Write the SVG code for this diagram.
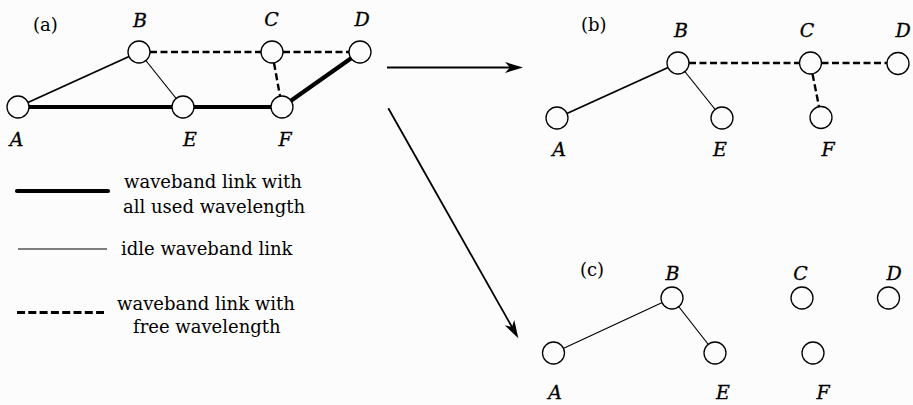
<svg xmlns="http://www.w3.org/2000/svg" width="913" height="405" viewBox="0 0 913 405">
  <style>
    .bg { fill: #fcfcfc; }
    .node { fill: #fcfcfc; stroke: #000; stroke-width: 1.3; }
    .lbl { font-family: "DejaVu Serif", "Liberation Serif", serif; font-style: italic; font-size: 19px; text-anchor: middle; fill: #000; stroke: #000; stroke-width: 0.3; }
    .cap { font-family: "DejaVu Serif", "Liberation Serif", serif; font-size: 18px; fill: #000; }
    .thick { stroke: #000; stroke-width: 4.2; fill: none; }
    .med { stroke: #000; stroke-width: 1.9; fill: none; }
    .thin { stroke: #000; stroke-width: 1.2; fill: none; }
    .dash { stroke: #000; stroke-width: 2.4; stroke-dasharray: 7 3.5; fill: none; }
    .arrow { stroke: #000; stroke-width: 1.8; fill: none; marker-end: url(#head); }
  </style>
  <defs>
    <marker id="head" markerUnits="userSpaceOnUse" markerWidth="20" markerHeight="14" refX="10" refY="0" viewBox="0 -7 20 14" orient="auto" overflow="visible">
      <path d="M0,-5.5 L18,0 L0,5.5 L5,0 Z" fill="#000"/>
    </marker>
  </defs>
  <rect class="bg" x="0" y="0" width="913" height="405"/>

  <!-- connectors -->
  <g id="connectors">
    <!-- panel a -->
    <line class="med" x1="18" y1="107" x2="139" y2="52"/>
    <line class="thin" x1="139" y1="52" x2="183" y2="107"/>
    <line class="thick" x1="18" y1="107" x2="282" y2="107"/>
    <line class="thick" x1="282" y1="107" x2="360" y2="52"/>
    <line class="dash" x1="150" y1="52" x2="261" y2="52"/>
    <line class="dash" x1="283" y1="52" x2="349" y2="52"/>
    <line class="dash" x1="274" y1="63" x2="280" y2="96"/>
    <!-- panel b -->
    <line class="med" x1="557" y1="118" x2="678" y2="63"/>
    <line class="thin" x1="678" y1="63" x2="722" y2="118"/>
    <line class="dash" x1="689" y1="63" x2="799.5" y2="63"/>
    <line class="dash" x1="821.5" y1="63" x2="887" y2="63"/>
    <line class="dash" x1="812.5" y1="74" x2="819" y2="106.5"/>
    <!-- panel c -->
    <line class="thin" x1="553.5" y1="353" x2="672" y2="298"/>
    <line class="thin" x1="672" y1="298" x2="715" y2="353"/>
    <!-- transition arrows -->
    <line class="arrow" x1="387" y1="67.5" x2="515" y2="67.5"/>
    <line class="arrow" x1="388.3" y1="108.3" x2="514.4" y2="331.3"/>
  </g>

  <!-- panel a nodes -->
  <text class="cap" x="33" y="31">(a)</text>
  <g id="a-A"><circle class="node" cx="18" cy="107" r="11"/><text class="lbl" x="16.5" y="146">A</text></g>
  <g id="a-B"><circle class="node" cx="139" cy="52" r="11"/><text class="lbl" x="140" y="27">B</text></g>
  <g id="a-C"><circle class="node" cx="272" cy="52" r="11"/><text class="lbl" x="271.5" y="26">C</text></g>
  <g id="a-D"><circle class="node" cx="360" cy="52" r="11"/><text class="lbl" x="362" y="26">D</text></g>
  <g id="a-E"><circle class="node" cx="183" cy="107" r="11"/><text class="lbl" x="190" y="146">E</text></g>
  <g id="a-F"><circle class="node" cx="282" cy="107" r="11"/><text class="lbl" x="285" y="146">F</text></g>

  <!-- panel b nodes -->
  <text class="cap" x="581" y="31">(b)</text>
  <g id="b-A"><circle class="node" cx="557" cy="118" r="11"/><text class="lbl" x="559" y="156">A</text></g>
  <g id="b-B"><circle class="node" cx="678" cy="63" r="11"/><text class="lbl" x="681" y="37">B</text></g>
  <g id="b-C"><circle class="node" cx="810.5" cy="63" r="11"/><text class="lbl" x="807" y="37">C</text></g>
  <g id="b-D"><circle class="node" cx="898" cy="63.5" r="11"/><text class="lbl" x="903" y="37">D</text></g>
  <g id="b-E"><circle class="node" cx="722" cy="118" r="11"/><text class="lbl" x="720" y="156">E</text></g>
  <g id="b-F"><circle class="node" cx="821" cy="117.5" r="11"/><text class="lbl" x="828" y="156">F</text></g>

  <!-- panel c nodes -->
  <text class="cap" x="580" y="276">(c)</text>
  <g id="c-A"><circle class="node" cx="553.5" cy="353" r="11"/><text class="lbl" x="555" y="399">A</text></g>
  <g id="c-B"><circle class="node" cx="672" cy="298" r="11"/><text class="lbl" x="672.5" y="280">B</text></g>
  <g id="c-C"><circle class="node" cx="802" cy="298" r="11"/><text class="lbl" x="800.5" y="280">C</text></g>
  <g id="c-D"><circle class="node" cx="888.5" cy="298" r="11"/><text class="lbl" x="894" y="280">D</text></g>
  <g id="c-E"><circle class="node" cx="715" cy="353" r="11"/><text class="lbl" x="723" y="399">E</text></g>
  <g id="c-F"><circle class="node" cx="813" cy="353" r="11"/><text class="lbl" x="823" y="399">F</text></g>

  <!-- legend -->
  <g id="legend">
    <line x1="17" y1="191" x2="108" y2="191" stroke="#000" stroke-width="4.2" stroke-linecap="round"/>
    <text class="cap" x="124" y="188">waveband link with</text>
    <text class="cap" x="123" y="213">all used wavelength</text>
    <line x1="18" y1="249" x2="107" y2="249" stroke="#000" stroke-width="1.2"/>
    <text class="cap" x="121" y="255">idle waveband link</text>
    <line x1="17" y1="312.5" x2="104" y2="312.5" stroke="#000" stroke-width="3" stroke-dasharray="8 3.3"/>
    <text class="cap" x="117" y="310">waveband link with</text>
    <text class="cap" x="133" y="333">free wavelength</text>
  </g>
</svg>
